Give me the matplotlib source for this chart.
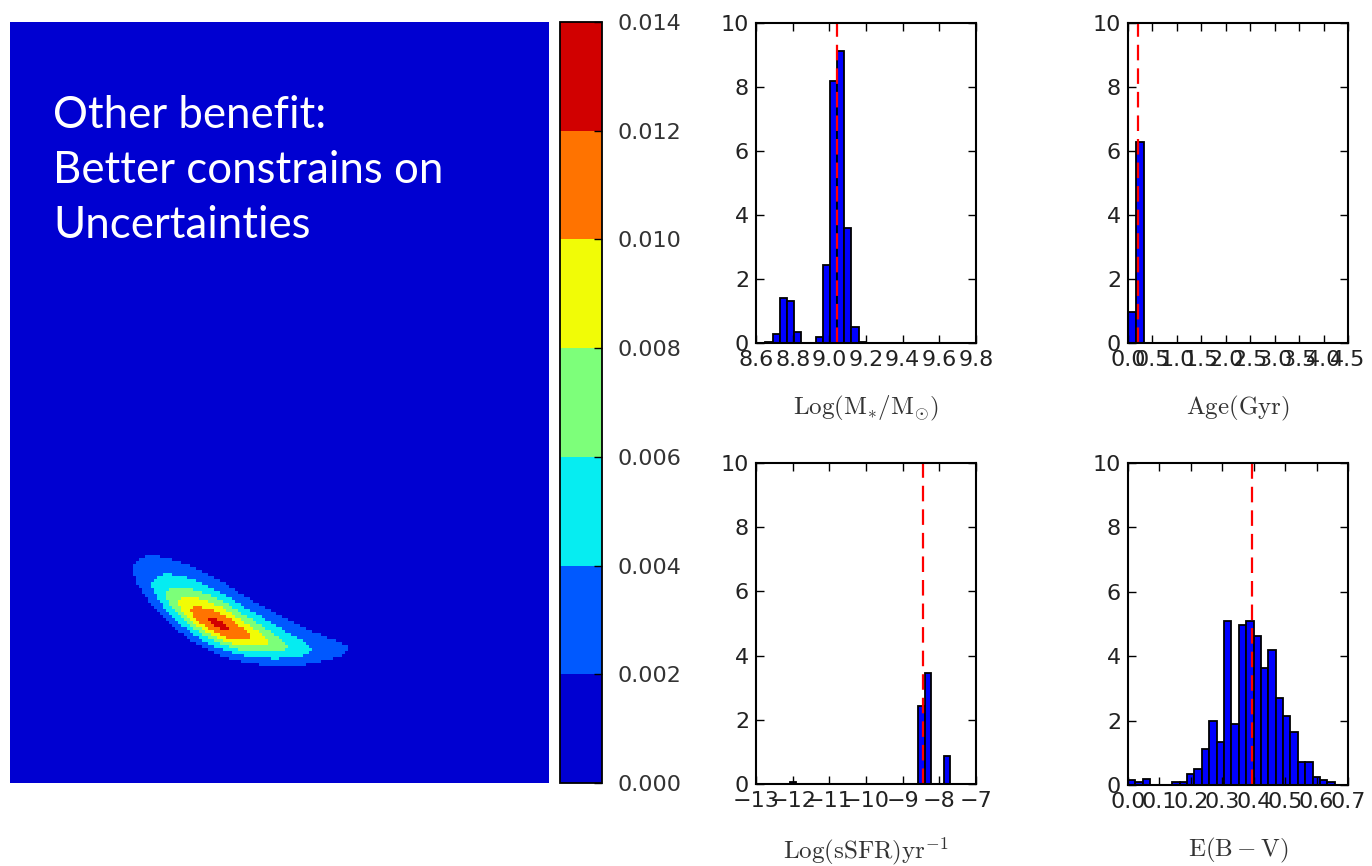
import numpy as np
import matplotlib
matplotlib.use("Agg")
import matplotlib.pyplot as plt
from matplotlib.colors import ListedColormap, BoundaryNorm

plt.rcParams["mathtext.fontset"] = "cm"

# ---- posterior histograms (normalised counts) ----
mass_left, mass_width = 8.651, 0.0391
mass_heights = [0.04, 0.28, 1.40, 1.31, 0.35, 0.0, 0.0, 0.20, 2.43, 8.20, 9.14, 3.60, 0.51, 0.04]
mass_best = 9.042
mass_ticks = [8.6, 8.8, 9.0, 9.2, 9.4, 9.6, 9.8]

age_left, age_width = 0.0, 0.16
age_heights = [0.96, 6.29]
age_best = 0.21
age_ticks = [0.0, 0.5, 1.0, 1.5, 2.0, 2.5, 3.0, 3.5, 4.0, 4.5]

ssfr_left, ssfr_width = -12.075, 0.175
ssfr_heights = [0.05, 0, 0, 0, 0, 0, 0, 0, 0, 0, 0, 0, 0, 0, 0, 0, 0, 0, 0, 0,
                2.44, 3.46, 0.0, 0.0, 0.86]
ssfr_best = -8.436
ssfr_ticks = [-13, -12, -11, -10, -9, -8, -7]

ebv_left, ebv_width = 0.0, 0.0235
ebv_heights = [0.16, 0.08, 0.18, 0, 0, 0, 0.08, 0.08, 0.34, 0.50, 1.12, 1.99, 1.35, 5.10,
               1.89, 4.97, 5.10, 4.64, 3.63, 4.20, 2.70, 2.15, 1.66, 0.70, 0.70, 0.24, 0.16, 0.08]
ebv_best = 0.394
ebv_ticks = [0.0, 0.1, 0.2, 0.3, 0.4, 0.5, 0.6, 0.7]

# ---- 2D posterior map: banana shaped density in panel pixel coords ----
levels = [0.000, 0.002, 0.004, 0.006, 0.008, 0.010, 0.012, 0.014]
peak_value = 0.0125
peak_x, peak_y = 212, 605
slope, curv = 0.45, -0.0021
sig_along = (46.5, 50.6)     # left, right of the peak
pow_along = (2.0, 1.4)
sig_across = (19.6, 15.2)    # above, below the ridge
pow_across = (1.6, 1.9)
taper = 0.0025               # band gets thicker towards the left end
panel_w, panel_h, cell = 538, 761, 3

xs = np.arange(0, panel_w, cell) + cell / 2
ys = np.arange(0, panel_h, cell) + cell / 2
X, Y = np.meshgrid(xs, ys)
du = X - peak_x
ridge = peak_y + slope * du + curv * du ** 2
dv = Y - ridge
left = du < 0
above = dv < 0
su = np.where(left, sig_along[0], sig_along[1])
pa = np.where(left, pow_along[0], pow_along[1])
sv = np.where(above, sig_across[0], sig_across[1]) * np.clip(1 - taper * du, 0.4, None)
pv = np.where(above, pow_across[0], pow_across[1])
g = np.abs(du / su) ** pa + np.abs(dv / sv) ** pv
density = peak_value * np.exp(-0.5 * g)

W, H = 1372, 866
fig = plt.figure(figsize=(W / 100, H / 100), dpi=100)

def box(x0, y0, x1, y1):
    return [x0 / W, 1 - y1 / H, (x1 - x0) / W, (y1 - y0) / H]

cmap = ListedColormap(plt.cm.jet((np.arange(7) + 0.5) / 7))
norm = BoundaryNorm(levels, cmap.N)

ax_map = fig.add_axes(box(10, 22, 548, 783))
im = ax_map.imshow(density, cmap=cmap, norm=norm, extent=(0, panel_w, panel_h, 0),
                   interpolation="nearest", aspect="auto")
ax_map.axis("off")

for txt, yb in [("Other benefit:", 128), ("Better constrains on", 183), ("Uncertainties", 238)]:
    fig.text(53 / W, 1 - yb / H, txt, color="white", fontsize=31.5, family="Lato",
             va="baseline", ha="left")

cax = fig.add_axes(box(560, 22, 602, 783))
cb = fig.colorbar(im, cax=cax, ticks=levels)
cb.outline.set_linewidth(1.3)
cax.yaxis.set_major_formatter(matplotlib.ticker.FormatStrFormatter("%.3f"))
cax.tick_params(direction="in", length=6, width=1, labelsize=16, labelcolor="#333", pad=11)


def hist_panel(rect, left, width, heights, best, ticks, xlabel):
    ax = fig.add_axes(rect)
    lefts = left + width * np.arange(len(heights))
    ax.bar(lefts, heights, width=width, align="edge", color="blue",
           edgecolor="black", linewidth=1.3)
    ax.axvline(best, color="red", lw=1.6, ls="--", dashes=(7, 3.6))
    ax.set_xlim(ticks[0], ticks[-1])
    ax.set_ylim(0, 10)
    ax.set_xticks(ticks)
    ax.set_yticks([0, 2, 4, 6, 8, 10])
    ax.tick_params(direction="in", top=True, right=True, length=6, width=1,
                   labelsize=16, labelcolor="#222", pad=5)
    for s in ax.spines.values():
        s.set_linewidth(1.5)
    ax.set_xlabel(xlabel, fontsize=18, labelpad=17, color="#333")
    return ax


ax1 = hist_panel(box(756, 23, 976, 343), mass_left, mass_width, mass_heights, mass_best,
                 mass_ticks, r"$\mathrm{Log(M_{*}/M_{\odot})}$")
ax1.xaxis.set_major_formatter(matplotlib.ticker.FormatStrFormatter("%.1f"))
ax2 = hist_panel(box(1128, 23, 1348, 343), age_left, age_width, age_heights, age_best,
                 age_ticks, r"$\mathrm{Age(Gyr)}$")
ax2.xaxis.set_major_formatter(matplotlib.ticker.FormatStrFormatter("%.1f"))
ax3 = hist_panel(box(756, 463, 976, 784), ssfr_left, ssfr_width, ssfr_heights, ssfr_best,
                 ssfr_ticks, r"$\mathrm{Log(sSFR)yr^{-1}}$")
ax4 = hist_panel(box(1128, 463, 1348, 785), ebv_left, ebv_width, ebv_heights, ebv_best,
                 ebv_ticks, r"$\mathrm{E(B-V)}$")
ax4.xaxis.set_major_formatter(matplotlib.ticker.FormatStrFormatter("%.1f"))

fig.savefig("out.png", dpi=100)
